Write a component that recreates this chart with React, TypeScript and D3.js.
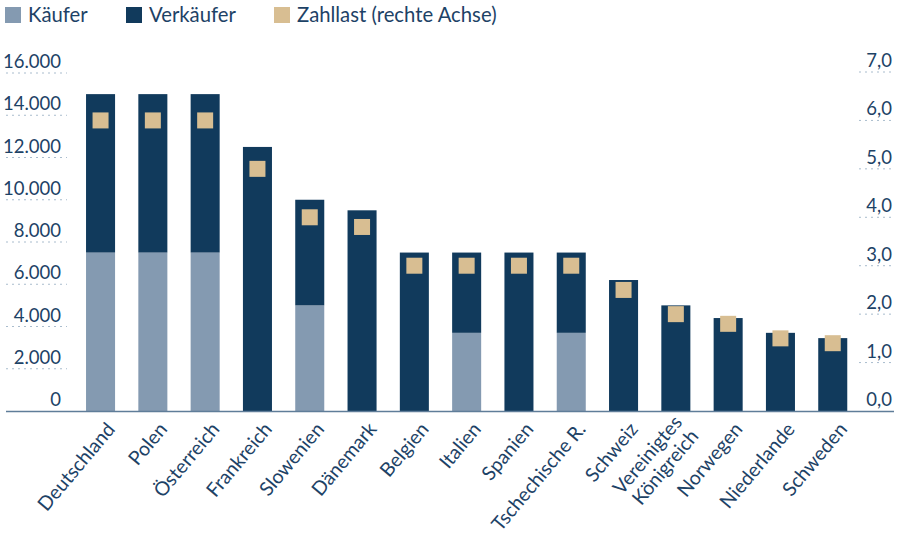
import React, { useRef, useEffect } from "react";
import * as d3 from "d3";

const countries = [
  "Deutschland",
  "Polen",
  "Österreich",
  "Frankreich",
  "Slowenien",
  "Dänemark",
  "Belgien",
  "Italien",
  "Spanien",
  "Tschechische R.",
  "Schweiz",
  "Vereinigtes Königreich",
  "Norwegen",
  "Niederlande",
  "Schweden",
];
const kaeufer = [7500, 7500, 7500, 0, 5000, 0, 0, 3700, 0, 3700, 0, 0, 0, 0, 0];
const verkaeufer = [7500, 7500, 7500, 12500, 5000, 9500, 7500, 3800, 7500, 3800, 6200, 5000, 4400, 3700, 3450];
const zahllast = [6.0, 6.0, 6.0, 5.0, 4.0, 3.8, 3.0, 3.0, 3.0, 3.0, 2.5, 2.0, 1.8, 1.5, 1.4];
const leftTicks = [0, 2000, 4000, 6000, 8000, 10000, 12000, 14000, 16000];
const rightTicks = [0, 1, 2, 3, 4, 5, 6, 7];
const legendItems = [
  { label: "Käufer", color: "#849ab1" },
  { label: "Verkäufer", color: "#113a5c" },
  { label: "Zahllast (rechte Achse)", color: "#d8be92" },
];

const FONT = "'Source Sans Pro', Lato, 'Noto Sans', sans-serif";
const TEXT = "#1d4266";

const App = () => {
  const ref = useRef<SVGSVGElement>(null);
  const width = 898;
  const height = 536;

  useEffect(() => {
    const svg = d3.select(ref.current);
    svg.selectAll("*").remove();

    const baseY = 411;
    const yLeft = d3.scaleLinear().domain([0, 16000]).range([baseY, 73]);
    const yRight = d3.scaleLinear().domain([0, 7]).range([baseY, 72]);
    const x = d3
      .scaleBand<string>()
      .domain(countries)
      .range([74.4, 74.4 + 15 * 52.3])
      .paddingInner(0.445)
      .paddingOuter(0.2225);

    const fmtL = (v: number) => (v === 0 ? "0" : d3.format(",")(v).replace(/,/g, "."));
    const fmtR = (v: number) => v.toFixed(1).replace(".", ",");

    // left ticks
    const lg = svg.append("g");
    leftTicks.forEach((t) => {
      if (t > 0) {
        lg.append("line")
          .attr("x1", 6)
          .attr("x2", 67)
          .attr("y1", yLeft(t))
          .attr("y2", yLeft(t))
          .attr("stroke", "#a9bccd")
          .attr("stroke-width", 1)
          .attr("stroke-dasharray", "2,4");
      }
      lg.append("text")
        .attr("x", 61)
        .attr("y", yLeft(t) - 5)
        .attr("text-anchor", "end")
        .attr("font-family", FONT)
        .attr("font-size", 18.5)
        .attr("fill", TEXT)
        .text(fmtL(t));
    });

    // right ticks
    const rg = svg.append("g");
    rightTicks.forEach((t) => {
      if (t > 0) {
        rg.append("line")
          .attr("x1", 859)
          .attr("x2", 894)
          .attr("y1", yRight(t))
          .attr("y2", yRight(t))
          .attr("stroke", "#a9bccd")
          .attr("stroke-width", 1)
          .attr("stroke-dasharray", "2,4");
      }
      rg.append("text")
        .attr("x", 892)
        .attr("y", yRight(t) - 5)
        .attr("text-anchor", "end")
        .attr("font-family", FONT)
        .attr("font-size", 18.5)
        .attr("fill", TEXT)
        .text(fmtR(t));
    });

    // bars
    const bars = svg.append("g");
    countries.forEach((c, i) => {
      const x0 = x(c) as number;
      const bw = x.bandwidth();
      if (kaeufer[i] > 0) {
        bars.append("rect")
          .attr("x", x0)
          .attr("width", bw)
          .attr("y", yLeft(kaeufer[i]))
          .attr("height", baseY - yLeft(kaeufer[i]))
          .attr("fill", legendItems[0].color);
      }
      bars.append("rect")
        .attr("x", x0)
        .attr("width", bw)
        .attr("y", yLeft(kaeufer[i] + verkaeufer[i]))
        .attr("height", yLeft(kaeufer[i]) - yLeft(kaeufer[i] + verkaeufer[i]))
        .attr("fill", legendItems[1].color);
    });

    // zahllast markers
    const sq = 16;
    svg.append("g")
      .selectAll("rect")
      .data(countries)
      .enter()
      .append("rect")
      .attr("x", (c) => (x(c) as number) + x.bandwidth() / 2 - sq / 2)
      .attr("y", (c, i) => yRight(zahllast[i]) - sq / 2)
      .attr("width", sq)
      .attr("height", sq)
      .attr("fill", legendItems[2].color);

    // baseline
    svg.append("line")
      .attr("x1", 6)
      .attr("x2", 894)
      .attr("y1", baseY + 0.5)
      .attr("y2", baseY + 0.5)
      .attr("stroke", "#5f7d99")
      .attr("stroke-width", 1.5);

    // x labels
    const xl = svg.append("g");
    countries.forEach((c) => {
      const cx = (x(c) as number) + x.bandwidth() / 2 + 5;
      const t = xl.append("text")
        .attr("transform", `translate(${cx},${baseY + 10}) rotate(-50)`)
        .attr("text-anchor", "end")
        .attr("font-family", FONT)
        .attr("font-size", 19.5)
        .attr("fill", TEXT);
      const words = c === "Vereinigtes Königreich" ? ["Vereinigtes", "Königreich"] : [c];
      if (words.length === 1) {
        t.append("tspan").attr("x", 0).attr("dy", "0.7em").text(words[0]);
      } else {
        t.append("tspan").attr("x", 0).attr("dy", "0.15em").text(words[0]);
        t.append("tspan").attr("x", 0).attr("dy", "1.1em").text(words[1]);
      }
    });

    // legend
    const legX = [5, 126, 274];
    legendItems.forEach((item, i) => {
      svg.append("rect")
        .attr("x", legX[i])
        .attr("y", 7)
        .attr("width", 16)
        .attr("height", 16)
        .attr("fill", item.color);
      svg.append("text")
        .attr("x", legX[i] + 23)
        .attr("y", 22)
        .attr("font-family", FONT)
        .attr("font-size", 20.3)
        .attr("fill", TEXT)
        .text(item.label);
    });
  }, []);

  return (
    <svg
      ref={ref}
      width={width}
      height={height}
      style={{ position: "absolute", left: 0, top: 0 }}
    ></svg>
  );
};

export default App;
